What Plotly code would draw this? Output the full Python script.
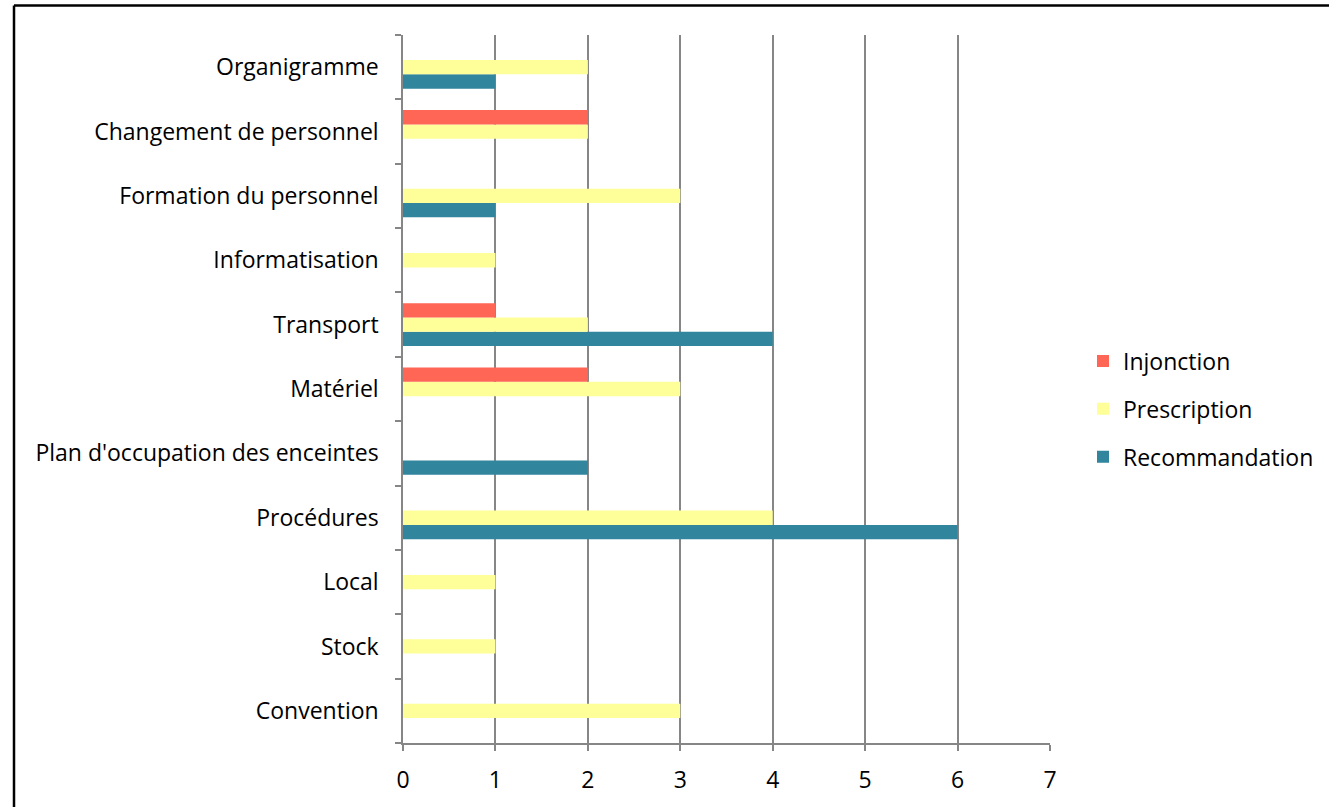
import plotly.graph_objects as go

categories = ["Convention", "Stock", "Local", "Procédures", "Plan d'occupation des enceintes",
              "Matériel", "Transport", "Informatisation", "Formation du personnel",
              "Changement de personnel", "Organigramme"]
injonction = [0, 0, 0, 0, 0, 2, 1, 0, 0, 2, 0]
prescription = [3, 1, 1, 4, 0, 3, 2, 1, 3, 2, 2]
recommandation = [0, 0, 0, 6, 2, 0, 4, 0, 1, 0, 1]
x_ticks = [0, 1, 2, 3, 4, 5, 6, 7]

W, H = 1329, 807
L, R, T, B = 403, 1050, 35, 745
FONT = "Open Sans"
FS = 23

fig = go.Figure()
series = [("Recommandation", recommandation, "#31859C", 3),
          ("Prescription", prescription, "#FFFF99", 2),
          ("Injonction", injonction, "#FF6655", 1)]
for name, vals, col, rank in series:
    fig.add_trace(go.Bar(
        y=categories, x=vals, name=name, orientation="h",
        marker=dict(color=col, line=dict(width=0)),
        legendgroup=name, legendrank=rank,
    ))

def px_x(p):
    return (p - L) / (R - L)

def px_y(p):
    return (B - p) / (B - T)

fig.update_layout(
    width=W, height=H,
    margin=dict(l=L, r=W - R, t=T, b=H - B),
    paper_bgcolor="white", plot_bgcolor="white",
    barmode="group", bargap=0.333, bargroupgap=0,
    font=dict(family=FONT, size=FS, color="#000000"),
    showlegend=True,
    legend=dict(
        xref="container", yref="container",
        x=1083 / W, y=1 - 409 / H, xanchor="left", yanchor="middle",
        traceorder="grouped", tracegroupgap=15,
        font=dict(family=FONT, size=FS, color="#000000"),
        bgcolor="rgba(0,0,0,0)", itemwidth=30,
    ),
    xaxis=dict(
        range=[0, 7], tickvals=x_ticks, ticktext=[str(v) for v in x_ticks],
        showgrid=True, gridcolor="#868686", gridwidth=1.5,
        showline=True, linecolor="#868686", linewidth=1.5,
        ticks="outside", ticklen=6, tickcolor="#868686", tickwidth=1.5,
        zeroline=False, ticklabelstandoff=10,
        tickfont=dict(family=FONT, size=FS, color="#000000"),
    ),
    yaxis=dict(
        type="category", categoryorder="array", categoryarray=categories,
        range=[-0.5, len(categories) - 0.5],
        showgrid=False,
        showline=True, linecolor="#868686", linewidth=1.5,
        ticks="outside", ticklen=6, tickcolor="#868686", tickwidth=1.5,
        tickson="boundaries", ticklabelstandoff=18,
        tickfont=dict(family=FONT, size=FS, color="#000000"),
    ),
    shapes=[
        dict(type="line", xref="paper", yref="paper",
             x0=px_x(14), x1=px_x(1340), y0=px_y(5.5), y1=px_y(5.5),
             line=dict(color="#000000", width=2.5)),
        dict(type="line", xref="paper", yref="paper",
             x0=px_x(14), x1=px_x(14), y0=px_y(5.5), y1=px_y(820),
             line=dict(color="#000000", width=2.5)),
    ],
)

fig.write_html("out.html", config={"displayModeBar": False},
               post_script="document.body.style.margin='0';document.body.style.overflow='hidden';")
